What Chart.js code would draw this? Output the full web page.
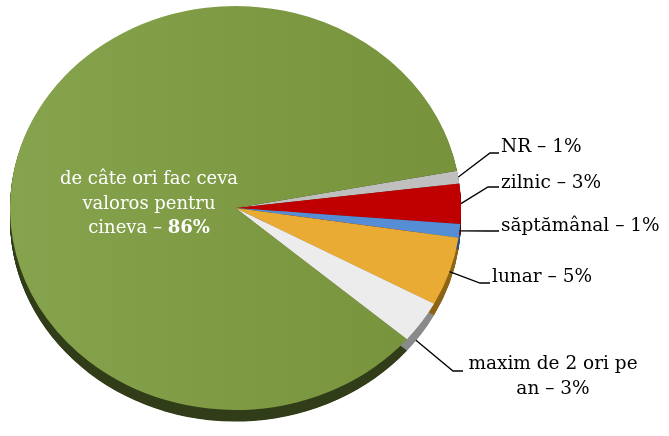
<!DOCTYPE html>
<html>
<head>
<meta charset="utf-8">
<script src="https://cdn.jsdelivr.net/npm/chart.js@4"></script>
<style>
  body { margin: 0; background: #fff; }
</style>
</head>
<body>
<canvas id="myChart" width="669" height="436"></canvas>
<script>
// slices, clockwise from the grey one
const categories = ['NR', 'zilnic', 'săptămânal', 'lunar', 'maxim de 2 ori pe an', 'de câte ori fac ceva valoros pentru cineva'];
const shares = [1.0, 3.2, 1.1, 5.5, 3.4, 85.8];
const percentLabels = ['1%', '3%', '1%', '5%', '3%', '86%'];
const sliceColors = ['#bfbfbf', '#c00000', '#558ed5', '#e9ab33', '#ececec', '#7f9c45'];
const sideColors = ['#8a8a8a', '#5e0000', '#2e4f78', '#8c6414', '#8a8a8a', '#313d18'];

// the pie is drawn as a tilted ellipse
const tilt = { cx: 235.5, cy: 208, rx: 225.5, ry: 202, depth: 12 };

// where the outside labels go
const labelLayout = [
  { elbowX: 490, elbowY: 153, endX: 499, textX: 501, baseY: 152, frac: 0.5 },
  { elbowX: 488, elbowY: 187, endX: 499, textX: 501, baseY: 188, frac: 0.5 },
  { elbowX: 488, elbowY: 231, endX: 499, textX: 501, baseY: 231, frac: 0.5 },
  { elbowX: 480, elbowY: 283, endX: 490, textX: 492, baseY: 282, frac: 0.5 },
  { elbowX: 453, elbowY: 371, endX: 463, textX: 553, baseY: 369, frac: 0.7, side: true, lines: ['maxim de 2 ori pe', 'an – 3%'] }
];

function ellipsePoint(angle) {
  return { x: tilt.cx + tilt.rx * Math.cos(angle), y: tilt.cy + tilt.ry * Math.sin(angle) };
}

// green slice gets a soft left-to-right shading like the original
function sliceFill(context) {
  const i = context.dataIndex;
  if (i !== 5) return sliceColors[i];
  const g = context.chart.ctx.createLinearGradient(10, 0, 460, 0);
  g.addColorStop(0, '#86a34d');
  g.addColorStop(1, '#76923b');
  return g;
}

const tiltPlugin = {
  id: 'tilt',
  beforeDatasetsDraw(chart) {
    const ctx = chart.ctx;
    const arcs = chart.getDatasetMeta(0).data;
    const c = arcs[0];
    const R = c.outerRadius;
    ctx.save();
    ctx.translate(tilt.cx, tilt.cy);
    ctx.scale(tilt.rx / R, tilt.ry / R);
    ctx.translate(-c.x, -c.y);
    // side of the pie
    const off = tilt.depth * R / tilt.ry;
    for (let k = 1; k <= off; k += 0.5) {
      arcs.forEach((a, i) => {
        ctx.beginPath();
        ctx.moveTo(a.x, a.y + k);
        ctx.arc(a.x, a.y + k, R, a.startAngle, a.endAngle);
        ctx.closePath();
        ctx.fillStyle = sideColors[i];
        ctx.fill();
      });
    }
  },
  afterDatasetsDraw(chart) {
    chart.ctx.restore();
  }
};

const labelPlugin = {
  id: 'pieLabels',
  afterDraw(chart) {
    const ctx = chart.ctx;
    const arcs = chart.getDatasetMeta(0).data;
    ctx.save();
    ctx.strokeStyle = '#000';
    ctx.lineWidth = 1.3;
    ctx.fillStyle = '#000';
    ctx.font = '18.5px "DejaVu Serif"';
    ctx.textBaseline = 'alphabetic';
    labelLayout.forEach((l, i) => {
      const a = arcs[i];
      const ang = a.startAngle + (a.endAngle - a.startAngle) * l.frac;
      const p = ellipsePoint(ang);
      if (l.side) p.y += tilt.depth - 1;
      ctx.beginPath();
      ctx.moveTo(p.x, p.y);
      ctx.lineTo(l.elbowX, l.elbowY);
      ctx.lineTo(l.endX, l.elbowY);
      ctx.stroke();
      if (l.lines) {
        ctx.textAlign = 'center';
        ctx.fillText(l.lines[0], l.textX, l.baseY);
        ctx.fillText(l.lines[1], l.textX, l.baseY + 25);
      } else {
        ctx.textAlign = 'left';
        ctx.fillText(categories[i] + ' – ' + percentLabels[i], l.textX, l.baseY);
      }
    });
    // label inside the big slice
    ctx.fillStyle = '#ffffff';
    ctx.textAlign = 'center';
    ctx.font = '18px "DejaVu Serif"';
    ctx.fillText('de câte ori fac ceva', 149, 184);
    ctx.fillText('valoros pentru', 149, 209);
    const t1 = 'cineva – ';
    const t2 = percentLabels[5];
    const w1 = ctx.measureText(t1).width;
    ctx.font = 'bold 18px "DejaVu Serif"';
    const w2 = ctx.measureText(t2).width;
    const x0 = 149 - (w1 + w2) / 2;
    ctx.textAlign = 'left';
    ctx.fillText(t2, x0 + w1, 233);
    ctx.font = '18px "DejaVu Serif"';
    ctx.fillText(t1, x0, 233);
    ctx.restore();
  }
};

const ctx = document.getElementById('myChart').getContext('2d');
const myChart = new Chart(ctx, {
  type: 'pie',
  data: {
    labels: categories,
    datasets: [{
      data: shares,
      backgroundColor: sliceFill,
      borderWidth: 0,
      clip: false
    }]
  },
  options: {
    responsive: false,
    animation: false,
    rotation: 79.4,
    layout: { padding: { left: 10, right: 208, top: 0, bottom: 0 } },
    plugins: {
      legend: { display: false },
      tooltip: { enabled: false }
    }
  },
  plugins: [tiltPlugin, labelPlugin]
});
</script>
</body>
</html>
